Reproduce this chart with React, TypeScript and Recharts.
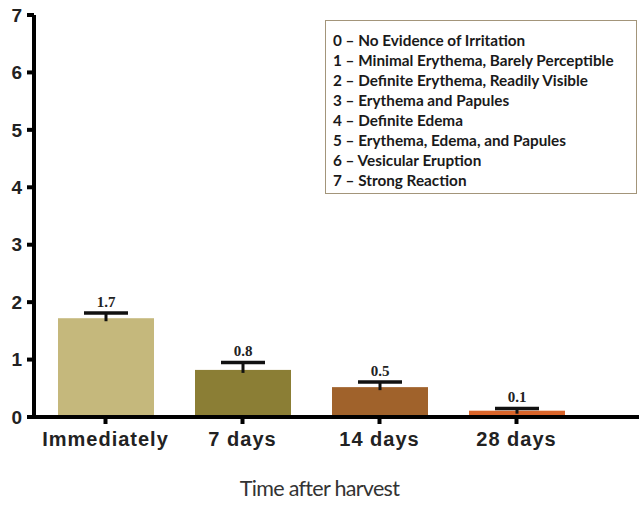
import React from 'react';
import { BarChart, Bar, XAxis, YAxis, Cell } from 'recharts';

// scores
const timepoints = ['Immediately', '7 days', '14 days', '28 days'];
const meanScore = [1.72, 0.82, 0.52, 0.11];
const stdErr = [0.09, 0.13, 0.09, 0.04];
const valueLabels = ['1.7', '0.8', '0.5', '0.1'];
const barColors = ['#c5b87c', '#8b7e35', '#a0622b', '#d9642a'];
const yTicks = [0, 1, 2, 3, 4, 5, 6, 7];

const scaleItems = [
  '0 – No Evidence of Irritation',
  '1 – Minimal Erythema, Barely Perceptible',
  '2 – Definite Erythema, Readily Visible',
  '3 – Erythema and Papules',
  '4 – Definite Edema',
  '5 – Erythema, Edema, and Papules',
  '6 – Vesicular Eruption',
  '7 – Strong Reaction',
];

const data = timepoints.map((t, i) => ({
  time: t,
  score: meanScore[i],
  err: stdErr[i],
  label: valueLabels[i],
}));

// bar with an upper-only error whisker and the value printed above the cap
const BarWithError = (props: any) => {
  const { x, y, width, height, fill, payload } = props;
  const pxPerUnit = payload.score > 0 ? height / payload.score : 0;
  const cx = x + width / 2;
  const top = y - payload.err * pxPerUnit;
  return (
    <g>
      <rect x={x} y={y} width={width} height={height} fill={fill} />
      <line x1={cx} x2={cx} y1={y + 3} y2={top} stroke="#111" strokeWidth={3} />
      <line x1={cx - 22} x2={cx + 22} y1={top} y2={top} stroke="#111" strokeWidth={3.5} />
      <text
        x={cx}
        y={top - 6}
        textAnchor="middle"
        fontFamily="Liberation Serif"
        fontWeight="bold"
        fontSize={15}
        fill="#222"
      >
        {payload.label}
      </text>
    </g>
  );
};

export default function App() {
  return (
    <div style={{ position: 'absolute', left: 0, top: 0, width: 639, height: 506, background: '#fff' }}>
      <BarChart width={639} height={506} data={data} margin={{ top: 15, right: 0, left: 0, bottom: 0 }}>
        <YAxis
          width={34}
          domain={[0, 7]}
          ticks={yTicks}
          interval={0}
          stroke="#000"
          strokeWidth={4}
          tickSize={7}
          tickMargin={5}
          tick={{ fill: '#222', fontSize: 19, fontWeight: 'bold', fontFamily: 'Liberation Sans' }}
        />
        <XAxis
          dataKey="time"
          height={89}
          padding={{ left: 3, right: 54 }}
          stroke="#000"
          strokeWidth={4}
          tickSize={7}
          tickMargin={8}
          tick={{
            fill: '#222',
            fontSize: 20,
            fontWeight: 'bold',
            fontFamily: 'Liberation Sans',
            letterSpacing: 1,
          }}
        />
        <Bar dataKey="score" barSize={96} shape={<BarWithError />} isAnimationActive={false}>
          {data.map((d, i) => (
            <Cell key={d.time} fill={barColors[i]} />
          ))}
        </Bar>
      </BarChart>

      <div
        style={{
          position: 'absolute',
          left: 325,
          top: 20,
          width: 312,
          height: 174,
          border: '1px solid #a3957a',
          boxSizing: 'border-box',
          padding: '9px 0 0 7px',
          fontFamily: 'Lato',
          fontWeight: 'bold',
          fontSize: 15.3,
          lineHeight: '20px',
          color: '#1a1a1a',
          whiteSpace: 'nowrap',
        }}
      >
        {scaleItems.map((s) => (
          <div key={s}>{s}</div>
        ))}
      </div>

      <div
        style={{
          position: 'absolute',
          left: 0,
          width: 639,
          top: 475,
          textAlign: 'center',
          fontFamily: 'Lato',
          fontSize: 21.5,
          letterSpacing: -0.7,
          color: '#333',
        }}
      >
        Time after harvest
      </div>
    </div>
  );
}
